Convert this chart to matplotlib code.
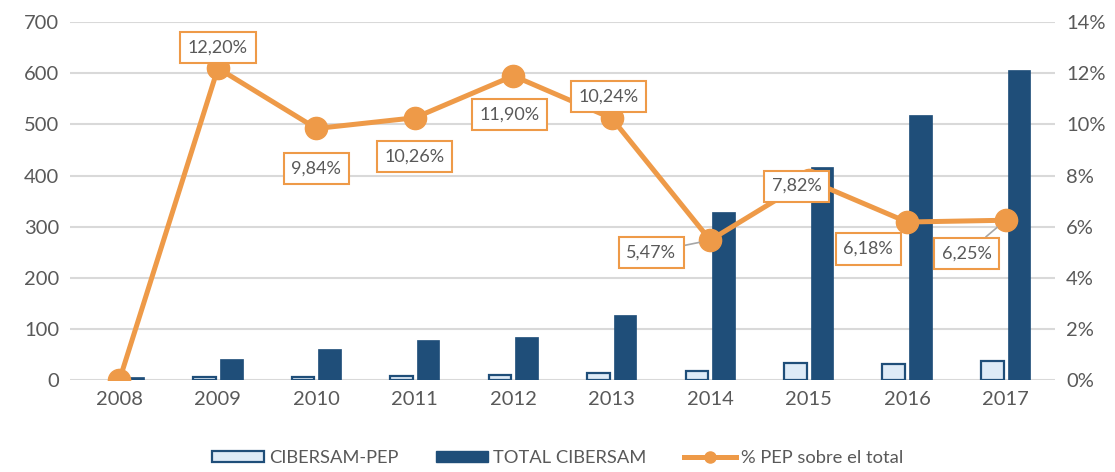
import matplotlib.pyplot as plt
from matplotlib.lines import Line2D
from matplotlib.patches import Patch
import numpy as np

plt.rcParams['font.family'] = ['Lato', 'DejaVu Sans']

years = ['2008', '2009', '2010', '2011', '2012', '2013', '2014', '2015', '2016', '2017']
pep = [0, 5, 6, 8, 10, 13, 18, 33, 32, 38]
total = [5, 41, 61, 78, 84, 127, 329, 417, 519, 607]
pct = [0.0, 12.20, 9.84, 10.26, 11.90, 10.24, 5.47, 7.82, 6.18, 6.25]
pct_labels = ['', '12,20%', '9,84%', '10,26%', '11,90%', '10,24%', '5,47%', '7,82%', '6,18%', '6,25%']
label_offsets = [(0, 0), (0, 21), (0, -40), (0, -39), (-4, -39), (-3, 22),
                 (-59, -12), (-12, -6), (-39, -27), (-39, -33)]

c_light = '#DEEBF7'
c_dark = '#1F4E79'
c_line = '#EE9A48'
c_text = '#595959'

fig = plt.figure(figsize=(11.15, 4.72), dpi=100)
ax = fig.add_axes([0.063, 0.195, 0.883, 0.758])
ax2 = ax.twinx()

x = np.arange(len(years))
w = 0.23
# zero-height bars get no outline
ax.bar(x - w / 2 - 0.02, pep, w, color=c_light, edgecolor=c_dark,
       linewidth=[1.6 if v > 0 else 0 for v in pep], zorder=2)
ax.bar(x + w / 2 + 0.02, total, w, color=c_dark, edgecolor=c_dark, linewidth=0.5, zorder=2)

ax.set_ylim(0, 700)
ax.set_yticks(range(0, 701, 100))
ax.set_xlim(-0.5, len(years) - 0.5)
ax.set_xticks(x)
ax.set_xticklabels(years)
ax.grid(axis='y', color='#D9D9D9', linewidth=1.5, zorder=0)
ax.set_axisbelow(True)

ax2.plot(x, pct, color=c_line, linewidth=3.6, marker='o', markersize=16, zorder=3)
ax2.set_ylim(0, 14)
ax2.set_yticks(range(0, 15, 2))
ax2.set_yticklabels([f'{v}%' for v in range(0, 15, 2)])

for i, (txt, off) in enumerate(zip(pct_labels, label_offsets)):
    if not txt:
        continue
    show_leader = i in (6, 9)
    ax2.annotate(txt, (x[i], pct[i]), xytext=off, textcoords='offset pixels',
                 ha='center', va='center', fontsize=13, color=c_text, zorder=5,
                 bbox=dict(boxstyle='square,pad=0.42', fc='white', ec=c_line, lw=1.5),
                 arrowprops=dict(arrowstyle='-', color='#A6A6A6', lw=1.2,
                                 shrinkA=0, shrinkB=8) if show_leader else None)

for a in (ax, ax2):
    for s in a.spines.values():
        s.set_visible(False)
    a.tick_params(length=0, labelsize=14.5, labelcolor=c_text, pad=8)

handles = [Patch(facecolor=c_light, edgecolor=c_dark, linewidth=1.6),
           Patch(facecolor=c_dark, edgecolor=c_dark),
           Line2D([], [], color=c_line, linewidth=3.6, marker='o', markersize=8)]
labels = ['CIBERSAM-PEP', 'TOTAL CIBERSAM', '% PEP sobre el total']
fig.legend(handles, labels, loc='lower center', bbox_to_anchor=(0.5, -0.022), ncol=3,
           frameon=False, fontsize=13.2, labelcolor=c_text, handlelength=2.85,
           handleheight=0.6, columnspacing=2.05, handletextpad=0.25)

fig.savefig('out.png', dpi=100)
